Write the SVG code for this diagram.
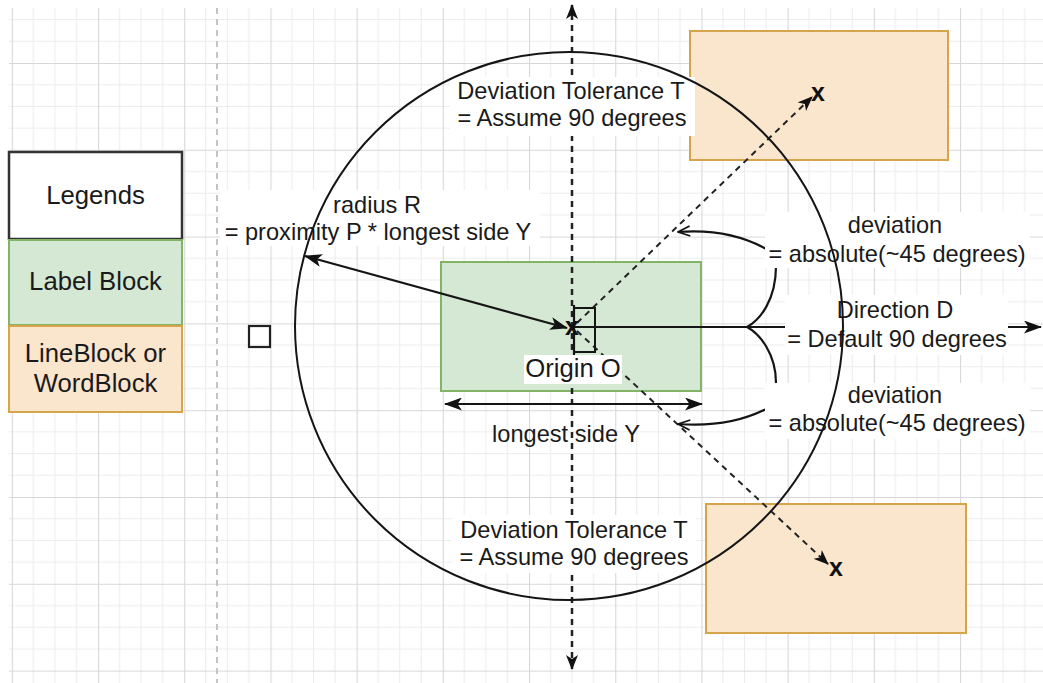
<svg xmlns="http://www.w3.org/2000/svg" width="1043" height="683" viewBox="0 0 1043 683">
  <style>
    .t { font-family: "Liberation Sans", Arial, sans-serif; font-size: 23.6px; fill: #1a1a1a; }
    .tl { font-family: "Liberation Sans", Arial, sans-serif; font-size: 25.7px; fill: #1a1a1a; }
    .xm { font-family: "Liberation Sans", Arial, sans-serif; font-size: 25px; font-weight: bold; fill: #111; }
    .bg { fill: #ffffff; stroke: none; }
    .ln { fill: none; stroke: #151515; stroke-width: 2.2; }
    .dash { fill: none; stroke: #222; stroke-width: 2.5; stroke-dasharray: 6 5; }
    .green { fill: #d5e8d4; stroke: #82b366; stroke-width: 2; }
    .orange { fill: #fae5cd; stroke: #d6a54a; stroke-width: 2; }
  </style>
  <defs>
    <pattern id="grid" patternUnits="userSpaceOnUse" x="11.8" y="63" width="86.2" height="86.8">
      <g stroke="#ececec" stroke-width="1">
        <line x1="21.55" y1="0" x2="21.55" y2="86.8"/>
        <line x1="43.1" y1="0" x2="43.1" y2="86.8"/>
        <line x1="64.65" y1="0" x2="64.65" y2="86.8"/>
        <line x1="0" y1="21.7" x2="86.2" y2="21.7"/>
        <line x1="0" y1="43.4" x2="86.2" y2="43.4"/>
        <line x1="0" y1="65.1" x2="86.2" y2="65.1"/>
      </g>
      <g stroke="#d8d8d8" stroke-width="1.2">
        <line x1="0.5" y1="0" x2="0.5" y2="86.8"/>
        <line x1="0" y1="0.5" x2="86.2" y2="0.5"/>
      </g>
    </pattern>
    <marker id="arr" viewBox="0 0 18 13" refX="17" refY="6.5" markerWidth="18" markerHeight="13" markerUnits="userSpaceOnUse" orient="auto-start-reverse">
      <path d="M0,0 L18,6.5 L0,13 L4.5,6.5 Z" fill="#111"/>
    </marker>
    <marker id="arrS" viewBox="0 0 15 12" refX="14" refY="6" markerWidth="15" markerHeight="12" markerUnits="userSpaceOnUse" orient="auto-start-reverse">
      <path d="M0,0 L15,6 L0,12 L4,6 Z" fill="#111"/>
    </marker>
    <marker id="open" viewBox="0 0 14 12" refX="13" refY="6" markerWidth="14" markerHeight="12" markerUnits="userSpaceOnUse" orient="auto">
      <path d="M1,1 L13,6 L1,11" fill="none" stroke="#111" stroke-width="1.7"/>
    </marker>
  </defs>

  <rect x="0" y="0" width="1043" height="683" fill="#ffffff"/>
  <rect x="9" y="8" width="1034" height="675" fill="url(#grid)"/>
  <line x1="217" y1="8" x2="217" y2="683" stroke="#c4c4c4" stroke-width="2" stroke-dasharray="6 5"/>

  <g id="legend-title">
    <rect x="9" y="152" width="173" height="87" fill="#ffffff" stroke="#333" stroke-width="2.5"/>
    <text class="tl" x="95.5" y="204" text-anchor="middle">Legends</text>
  </g>
  <g id="legend-label">
    <rect x="9" y="240" width="173" height="85" class="green"/>
    <text class="tl" x="95.5" y="290" text-anchor="middle">Label Block</text>
  </g>
  <g id="legend-line">
    <rect x="9" y="326" width="173" height="86" class="orange"/>
    <text class="tl" x="95.5" y="362" text-anchor="middle">LineBlock or</text>
    <text class="tl" x="95.5" y="392" text-anchor="middle">WordBlock</text>
  </g>

  <g id="small-square">
    <rect x="249" y="326" width="21" height="21" fill="none" stroke="#222" stroke-width="2.2"/>
  </g>

  <g id="block-top">
    <rect x="690" y="31" width="258" height="129" class="orange"/>
  </g>
  <g id="block-bottom">
    <rect x="706" y="504" width="260" height="129" class="orange"/>
  </g>
  <g id="label-block">
    <rect x="441" y="262" width="260" height="129" class="green"/>
  </g>

  <g id="connectors">
    <line x1="572" y1="669" x2="572" y2="5" class="dash" marker-start="url(#arrS)" marker-end="url(#arrS)"/>
    <line x1="577" y1="323" x2="812" y2="97" stroke="#222" stroke-width="2" stroke-dasharray="6 5" marker-end="url(#arrS)"/>
    <line x1="577" y1="331" x2="828" y2="564" stroke="#222" stroke-width="2" stroke-dasharray="6 5" marker-end="url(#arrS)"/>
    <line x1="305" y1="256" x2="567" y2="328" class="ln" marker-start="url(#arr)" marker-end="url(#arr)"/>
    <line x1="445" y1="404" x2="702" y2="404" class="ln" stroke-width="2.6" marker-start="url(#arr)" marker-end="url(#arr)"/>
    <line x1="575" y1="327" x2="1041" y2="327" class="ln" marker-end="url(#arr)"/>
    <path d="M776,266 C776,300 760,320 747,327 C760,334 776,354 776,383" class="ln"/>
    <path d="M768,250 Q730,228 678,232" class="ln" stroke-width="1.7" marker-end="url(#open)"/>
    <path d="M768,408 Q730,428 678,424" class="ln" stroke-width="1.7" marker-end="url(#open)"/>
    <line x1="574" y1="305" x2="574" y2="355" class="ln"/>
    <rect x="574" y="308" width="21" height="44" fill="none" stroke="#151515" stroke-width="2"/>
  </g>

  <g id="label-tol-top">
    <rect x="450" y="77" width="245" height="59" class="bg"/>
    <text class="t" x="571" y="99" text-anchor="middle">Deviation Tolerance T</text>
    <text class="t" x="572" y="126" text-anchor="middle">= Assume 90 degrees</text>
  </g>
  <g id="label-tol-bottom">
    <rect x="452" y="515" width="244" height="58" class="bg"/>
    <text class="t" x="574" y="538" text-anchor="middle">Deviation Tolerance T</text>
    <text class="t" x="574" y="565" text-anchor="middle">= Assume 90 degrees</text>
  </g>
  <g id="label-radius">
    <rect x="220" y="190" width="320" height="56" class="bg"/>
    <text class="t" x="377" y="213" text-anchor="middle">radius R</text>
    <text class="t" x="378" y="240" text-anchor="middle">= proximity P * longest side Y</text>
  </g>
  <g id="label-dev-top">
    <rect x="765" y="212" width="265" height="56" class="bg"/>
    <text class="t" x="895" y="233" text-anchor="middle">deviation</text>
    <text class="t" x="897" y="262" text-anchor="middle">= absolute(~45 degrees)</text>
  </g>
  <g id="label-direction">
    <rect x="785" y="295" width="223" height="60" class="bg"/>
    <text class="t" x="895" y="318" text-anchor="middle">Direction D</text>
    <text class="t" x="897" y="347" text-anchor="middle">= Default 90 degrees</text>
  </g>
  <g id="label-dev-bottom">
    <rect x="765" y="383" width="265" height="56" class="bg"/>
    <text class="t" x="895" y="403" text-anchor="middle">deviation</text>
    <text class="t" x="897" y="431" text-anchor="middle">= absolute(~45 degrees)</text>
  </g>
  <g id="label-origin">
    <rect x="524" y="355" width="98" height="29" class="bg"/>
    <text class="tl" x="573" y="377" text-anchor="middle">Origin O</text>
  </g>
  <g id="label-longest">
    <text class="t" x="566" y="442" text-anchor="middle">longest side Y</text>
  </g>

  <g id="proximity-circle">
    <circle cx="569" cy="326" r="274" fill="none" stroke="#151515" stroke-width="2"/>
  </g>

  <g id="markers">
    <text class="xm" x="572" y="335" text-anchor="middle">x</text>
    <text class="xm" x="818" y="101" text-anchor="middle">x</text>
    <text class="xm" x="836" y="576" text-anchor="middle">x</text>
  </g>
</svg>
